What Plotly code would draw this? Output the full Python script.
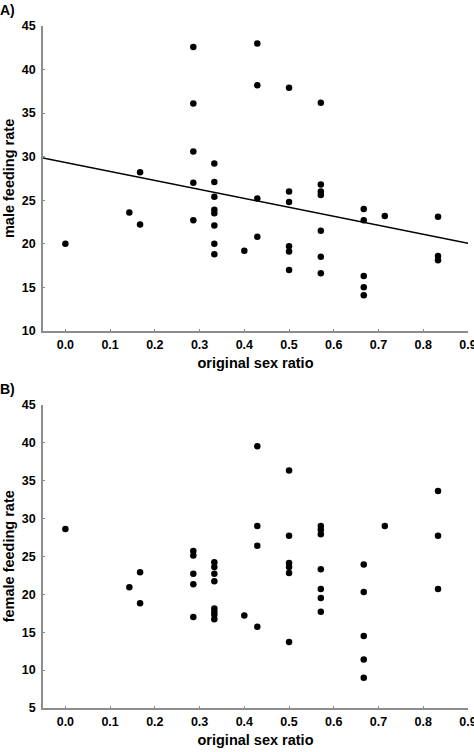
import plotly.graph_objects as go
from plotly.subplots import make_subplots

# ---- Data ----
male_x = [0.0, 0.143, 0.167, 0.167,
          0.286, 0.286, 0.286, 0.286, 0.286,
          0.333, 0.333, 0.333, 0.333, 0.333, 0.333, 0.333, 0.333,
          0.4,
          0.429, 0.429, 0.429, 0.429,
          0.5, 0.5, 0.5, 0.5, 0.5, 0.5,
          0.571, 0.571, 0.571, 0.571, 0.571, 0.571, 0.571,
          0.667, 0.667, 0.667, 0.667, 0.667,
          0.714,
          0.833, 0.833, 0.833]
male_y = [20.0, 23.6, 28.2, 22.2,
          42.6, 36.1, 30.6, 27.0, 22.7,
          29.2, 27.1, 25.4, 23.9, 23.5, 22.1, 20.0, 18.8,
          19.2,
          43.0, 38.2, 25.2, 20.8,
          37.9, 26.0, 24.8, 19.7, 19.1, 17.0,
          36.2, 26.8, 26.0, 25.6, 21.5, 18.5, 16.6,
          24.0, 22.7, 16.3, 15.0, 14.1,
          23.2,
          23.1, 18.6, 18.1]

fit_x = [-0.05, 0.9]
fit_intercept = 29.34
fit_slope = -10.32

female_x = [0.0, 0.143, 0.167, 0.167,
            0.286, 0.286, 0.286, 0.286, 0.286,
            0.333, 0.333, 0.333, 0.333, 0.333, 0.333, 0.333, 0.333,
            0.4,
            0.429, 0.429, 0.429, 0.429,
            0.5, 0.5, 0.5, 0.5, 0.5, 0.5,
            0.571, 0.571, 0.571, 0.571, 0.571, 0.571, 0.571,
            0.667, 0.667, 0.667, 0.667, 0.667,
            0.714,
            0.833, 0.833, 0.833]
female_y = [28.6, 20.9, 22.9, 18.8,
            25.7, 25.1, 22.7, 21.3, 17.0,
            24.2, 23.6, 22.7, 21.7, 18.1, 17.7, 17.3, 16.7,
            17.2,
            39.5, 29.0, 26.4, 15.7,
            36.3, 27.7, 24.1, 23.6, 22.8, 13.7,
            29.0, 28.5, 27.9, 23.3, 20.7, 19.5, 17.7,
            23.9, 20.3, 14.5, 11.4, 9.0,
            29.0,
            33.6, 27.7, 20.7]

x_ticks = [0.0, 0.1, 0.2, 0.3, 0.4, 0.5, 0.6, 0.7, 0.8, 0.9]
x_ticklabels = ["0.0", "0.1", "0.2", "0.3", "0.4", "0.5", "0.6", "0.7", "0.8", "0.9"]
yA_ticks = [10, 15, 20, 25, 30, 35, 40, 45]
yB_ticks = [5, 10, 15, 20, 25, 30, 35, 40, 45]

# ---- Figure ----
FONT = "Liberation Sans, Arial, sans-serif"
fig = make_subplots(rows=2, cols=1, vertical_spacing=0.108)

marker = dict(color="black", size=6.5)
fig.add_trace(go.Scatter(x=male_x, y=male_y, mode="markers", marker=marker,
                         showlegend=False), row=1, col=1)
fit_y = [fit_intercept + fit_slope * v for v in fit_x]
fig.add_trace(go.Scatter(x=fit_x, y=fit_y, mode="lines",
                         line=dict(color="black", width=1.5),
                         showlegend=False), row=1, col=1)
fig.add_trace(go.Scatter(x=female_x, y=female_y, mode="markers", marker=marker,
                         showlegend=False), row=2, col=1)

axis_common = dict(showline=True, linecolor="#8c8c8c", linewidth=1.5,
                   ticks="inside", ticklen=2, tickcolor="#8c8c8c",
                   showgrid=False, zeroline=False, mirror=False, automargin=False,
                   tickfont=dict(family=FONT, size=12.5, color="black", weight="bold"))

for r in (1, 2):
    fig.update_xaxes(range=[-0.05, 0.9], tickvals=x_ticks, ticktext=x_ticklabels,
                     title=dict(text="original sex ratio", standoff=7,
                                font=dict(family=FONT, size=14.5, color="black", weight="bold")),
                     ticklabelstandoff=1, ticklabeloverflow="allow",
                     row=r, col=1, **axis_common)

fig.update_yaxes(range=[10, 45], tickvals=yA_ticks,
                 title=dict(text="male feeding rate", standoff=4,
                            font=dict(family=FONT, size=14.5, color="black", weight="bold")),
                 ticklabelstandoff=3,
                 row=1, col=1, **axis_common)
fig.update_yaxes(range=[5, 45], tickvals=yB_ticks,
                 title=dict(text="female feeding rate", standoff=4,
                            font=dict(family=FONT, size=14.5, color="black", weight="bold")),
                 ticklabelstandoff=3,
                 row=2, col=1, **axis_common)

fig.update_layout(
    width=474, height=752,
    margin=dict(l=43, r=6, t=26, b=44, autoexpand=False),
    plot_bgcolor="white", paper_bgcolor="white",
    xaxis=dict(domain=[0, 1]), xaxis2=dict(domain=[0, 1]),
    yaxis=dict(domain=[0.553, 1.0]), yaxis2=dict(domain=[0.0, 0.445]),
    annotations=[
        dict(text="A)", xref="paper", yref="paper", x=-0.106, y=1.0, yshift=26,
             xanchor="left", yanchor="top", showarrow=False,
             font=dict(family=FONT, size=14, color="black", weight="bold")),
        dict(text="B)", xref="paper", yref="paper", x=-0.106, y=0.445, yshift=26,
             xanchor="left", yanchor="top", showarrow=False,
             font=dict(family=FONT, size=14, color="black", weight="bold")),
    ],
)

fig.write_html("out.html", config={"displayModeBar": False},
               post_script="document.body.style.margin='0';document.body.style.overflow='hidden';")
